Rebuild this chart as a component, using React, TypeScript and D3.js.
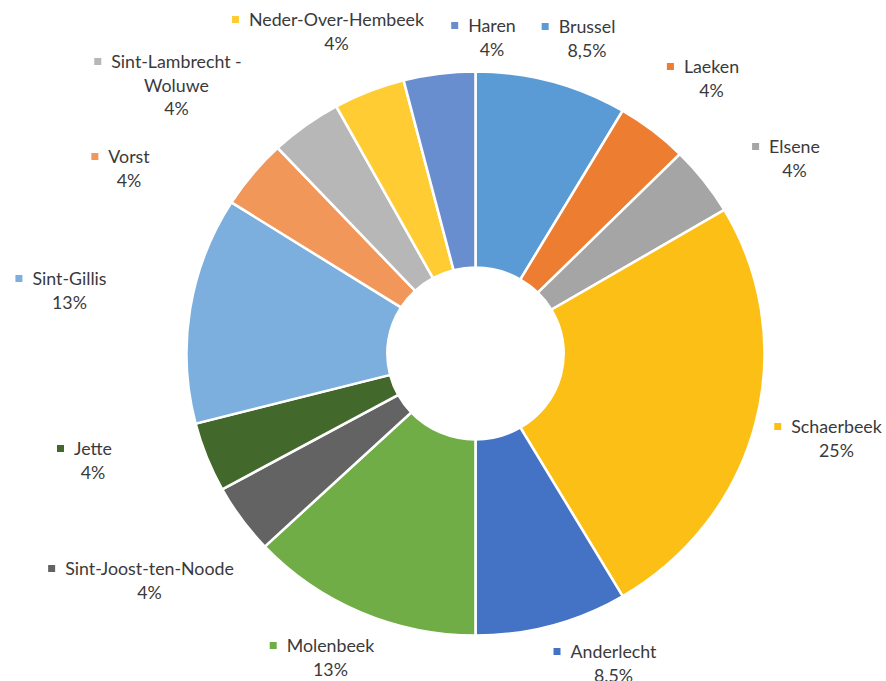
import React, { useEffect, useRef } from "react";
import * as d3 from "d3";

const categories = [
  "Brussel", "Laeken", "Elsene", "Schaerbeek", "Anderlecht", "Molenbeek",
  "Sint-Joost-ten-Noode", "Jette", "Sint-Gillis", "Vorst",
  "Sint-Lambrecht - Woluwe", "Neder-Over-Hembeek", "Haren",
];
const values = [8.5, 4, 4, 25, 8.5, 13, 4, 4, 13, 4, 4, 4, 4];
const valueLabels = ["8,5%", "4%", "4%", "25%", "8.5%", "13%", "4%", "4%", "13%", "4%", "4%", "4%", "4%"];
const nameLines = [
  ["Brussel"], ["Laeken"], ["Elsene"], ["Schaerbeek"], ["Anderlecht"], ["Molenbeek"],
  ["Sint-Joost-ten-Noode"], ["Jette"], ["Sint-Gillis"], ["Vorst"],
  ["Sint-Lambrecht -", "Woluwe"], ["Neder-Over-Hembeek"], ["Haren"],
];
const colors = [
  "#5B9BD5", "#ED7D31", "#A5A5A5", "#FCBF15", "#4472C4", "#70AD47",
  "#636363", "#43682B", "#7CAFDD", "#F1975A", "#B7B7B7", "#FFCD33", "#698ED0",
];

// label layout: centre x of the name text, baseline of first line
const labelLayout: [number, number][] = [
  [587, 33], [711.5, 73], [794.5, 153], [836.5, 433], [613.5, 658], [330.5, 652],
  [149.5, 575], [93, 455], [69.5, 285], [129, 163], [176.5, 68], [336.5, 26], [492, 32],
];

const W = 886, H = 681;
const CX = 475.5, CY = 353.5;
const R_OUT = 282, R_IN = 86, SX = 1.025;

export default function App() {
  const ref = useRef<SVGSVGElement>(null);
  useEffect(() => {
    const svg = d3.select(ref.current);
    svg.selectAll("*").remove();
    const pie = d3.pie<number>().sort(null).value((d) => d);
    const arcs = pie(values);
    const arc = d3.arc<d3.PieArcDatum<number>>().innerRadius(R_IN).outerRadius(R_OUT);
    const g = svg.append("g").attr("transform", `translate(${CX},${CY}) scale(${SX},1)`);
    g.selectAll("path").data(arcs).join("path")
      .attr("d", arc as any)
      .attr("fill", (_, i) => colors[i])
      .attr("stroke", "#fff")
      .attr("stroke-width", 2.5);

    const fontSize = 17.8;
    const lh = 23.5;
    const lg = svg.append("g")
      .attr("font-family", "Lato, 'Open Sans', sans-serif")
      .attr("font-size", fontSize)
      .attr("fill", "#3a3a3a");
    categories.forEach((c, i) => {
      const [x, y] = labelLayout[i];
      const lines = nameLines[i];
      const t = lg.append("text").attr("text-anchor", "middle");
      lines.forEach((ln, j) => {
        t.append("tspan").attr("x", x).attr("y", y + j * lh).text(ln);
      });
      t.append("tspan").attr("x", x).attr("y", y + lines.length * lh).text(valueLabels[i]);
      const first = t.select("tspan").node() as SVGTSpanElement;
      const w = first.getComputedTextLength();
      lg.append("rect")
        .attr("x", x - w / 2 - 17)
        .attr("y", y - 10)
        .attr("width", 7)
        .attr("height", 7)
        .attr("fill", colors[i]);
    });
  }, []);
  return (
    <svg ref={ref} width={W} height={H} style={{ position: "absolute", left: 0, top: 0, background: "#fff" }} />
  );
}
